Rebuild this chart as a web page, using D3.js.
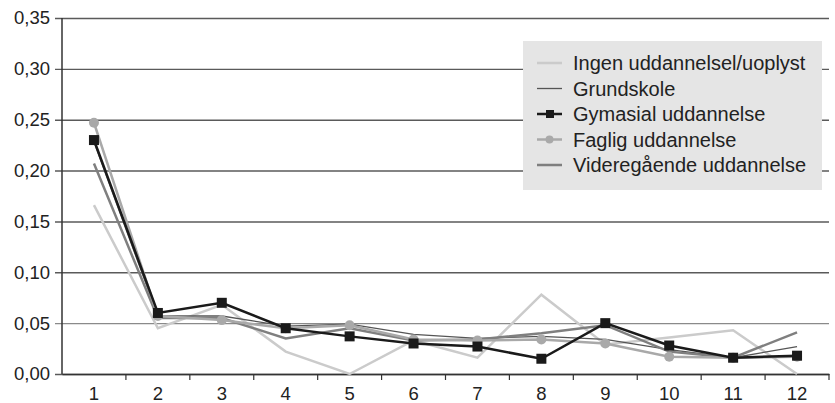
<!DOCTYPE html>
<html lang="da">
  <head>
    <meta charset="UTF-8" />
    <title>Uddannelse linjediagram</title>
    <script src="https://d3js.org/d3.v7.min.js"></script>
    <style>
      body { margin: 0; background: #fff; }
      svg { display: block; font-family: "Liberation Sans", Arial, sans-serif; }
      .line { fill: none; }
    </style>
  </head>
  <body>
    <svg width="835" height="403"></svg>
    <script>
      // data
      const categories = ["1", "2", "3", "4", "5", "6", "7", "8", "9", "10", "11", "12"];
      const yTicks = [0, 0.05, 0.1, 0.15, 0.2, 0.25, 0.3, 0.35];

      const ingen = [0.166, 0.045, 0.068, 0.022, 0.0, 0.033, 0.016, 0.078, 0.029, 0.036, 0.043, 0.0];
      const grundskole = [0.228, 0.057, 0.057, 0.047, 0.049, 0.039, 0.035, 0.037, 0.034, 0.024, 0.016, 0.027];
      const gymnasial = [0.23, 0.06, 0.07, 0.045, 0.037, 0.03, 0.027, 0.015, 0.05, 0.028, 0.016, 0.018];
      const faglig = [0.247, 0.057, 0.053, 0.045, 0.048, 0.034, 0.033, 0.034, 0.03, 0.017, 0.016, 0.017];
      const videregaende = [0.207, 0.055, 0.055, 0.035, 0.045, 0.033, 0.034, 0.04, 0.048, 0.022, 0.016, 0.041];

      const series = [
        { name: "Ingen uddannelsel/uoplyst", values: ingen, color: "#cbcbcb", width: 2.5, marker: null },
        { name: "Grundskole", values: grundskole, color: "#555", width: 1.3, marker: null },
        { name: "Gymasial uddannelse", values: gymnasial, color: "#1a1a1a", width: 2.5, marker: "square" },
        { name: "Faglig uddannelse", values: faglig, color: "#a9a9a9", width: 2.5, marker: "circle" },
        { name: "Videregående uddannelse", values: videregaende, color: "#7f7f7f", width: 2.5, marker: null },
      ];
      const drawOrder = [0, 1, 4, 3, 2];

      const svg = d3.select("svg");
      const MARGIN = { TOP: 18, RIGHT: 5, BOTTOM: 29, LEFT: 62 };
      const WIDTH = 829 - MARGIN.LEFT;
      const HEIGHT = 374 - MARGIN.TOP;

      const g = svg.append("g").attr("transform", `translate(${MARGIN.LEFT},${MARGIN.TOP})`);

      const X = d3.scaleBand().domain(categories).range([0, WIDTH]);
      const Y = d3.scaleLinear().domain([0, 0.35]).range([HEIGHT, 0]);
      const fmt = (d) => d3.format(".2f")(d).replace(".", ",");

      // gridlines + y labels
      const yAxis = g.append("g")
        .call(d3.axisLeft(Y).tickValues(yTicks).tickSize(-WIDTH - 7).tickFormat(fmt))
        .attr("transform", "translate(-7,0)");
      yAxis.select(".domain").remove();
      yAxis.selectAll(".tick line").attr("x1", 0).attr("x2", WIDTH + 7)
        .attr("stroke", (d) => (d === 0.05 ? "#8a8a8a" : "#5a5a5a")).attr("stroke-width", 1.4);
      yAxis.selectAll(".tick text").attr("x", -5).attr("font-size", 18.5)
        .attr("fill", "#222").attr("font-family", "Liberation Sans, Arial, sans-serif");

      // y axis line
      g.append("line").attr("x1", 0).attr("x2", 0).attr("y1", 0).attr("y2", HEIGHT)
        .attr("stroke", "#333").attr("stroke-width", 1.5);

      // x axis with ticks between categories
      const xAxis = g.append("g").attr("transform", `translate(0,${HEIGHT})`)
        .call(d3.axisBottom(X).tickSize(0).tickPadding(13));
      xAxis.select(".domain").attr("stroke", "#333").attr("stroke-width", 1.5);
      xAxis.selectAll(".tick text").attr("font-size", 18.5).attr("fill", "#222")
        .attr("font-family", "Liberation Sans, Arial, sans-serif");
      xAxis.selectAll(".sep").data(categories.slice(1).concat(["end"]))
        .enter().append("line")
        .attr("x1", (d, i) => (i + 1) * X.step()).attr("x2", (d, i) => (i + 1) * X.step())
        .attr("y1", 0).attr("y2", 6).attr("stroke", "#333").attr("stroke-width", 1.2);

      const cx = (d, i) => X(categories[i]) + X.bandwidth() / 2;
      const line = d3.line().x(cx).y((d) => Y(d));

      drawOrder.forEach((k) => {
        const s = series[k];
        g.append("path").datum(s.values).attr("class", "line")
          .attr("stroke", s.color).attr("stroke-width", s.width)
          .attr("stroke-linejoin", "miter").attr("d", line);
        if (s.marker === "square") {
          g.selectAll(null).data(s.values).enter().append("rect")
            .attr("x", (d, i) => cx(d, i) - 5).attr("y", (d) => Y(d) - 5)
            .attr("width", 10).attr("height", 10).attr("fill", s.color);
        } else if (s.marker === "circle") {
          g.selectAll(null).data(s.values).enter().append("circle")
            .attr("cx", cx).attr("cy", (d) => Y(d)).attr("r", 5).attr("fill", s.color);
        }
      });

      // legend
      const legend = svg.append("g").attr("transform", "translate(523,41)");
      legend.append("rect").attr("width", 299).attr("height", 149).attr("fill", "#e5e5e5");
      series.forEach((s, i) => {
        const row = legend.append("g").attr("transform", `translate(14,${22 + i * 25.5})`);
        row.append("line").attr("x1", 0).attr("x2", 25).attr("stroke", s.color)
          .attr("stroke-width", s.width);
        if (s.marker === "square") {
          row.append("rect").attr("x", 9).attr("y", -4).attr("width", 8).attr("height", 8).attr("fill", s.color);
        } else if (s.marker === "circle") {
          row.append("circle").attr("cx", 12.5).attr("r", 4).attr("fill", s.color);
        }
        row.append("text").attr("x", 36).attr("dy", "0.35em").attr("font-size", 20)
          .attr("fill", "#222").text(s.name);
      });
    </script>
  </body>
</html>
